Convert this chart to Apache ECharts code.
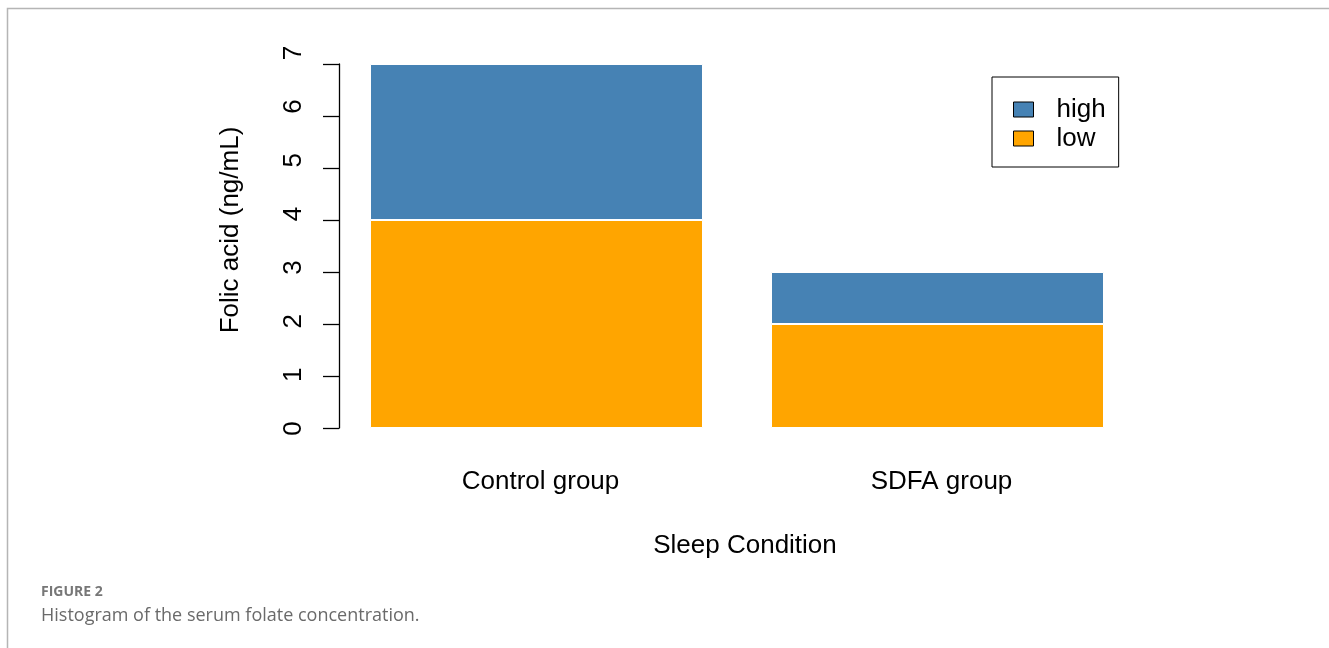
<!DOCTYPE html>
<html>
<head>
<meta charset="utf-8">
<script src="https://cdn.jsdelivr.net/npm/echarts@6/dist/echarts.min.js"></script>
<style>
  html, body { margin: 0; padding: 0; background: #fff; }
  #chart { width: 1329px; height: 648px; }
</style>
</head>
<body>
<div id="chart"></div>
<script>
// data
var groups = ['Control group', 'SDFA group'];
var lowValues = [4, 2];
var highValues = [3, 1];
var yTicks = [0, 1, 2, 3, 4, 5, 6, 7];

var font = 'Liberation Sans, Arial, sans-serif';

var option = {
    animation: false,
    backgroundColor: '#fff',
    title: {
        text: 'FIGURE 2',
        subtext: 'Histogram of the serum folate concentration.',
        left: 41,
        top: 585,
        itemGap: 8,
        padding: 0,
        textStyle: {
            fontFamily: 'Open Sans, sans-serif',
            fontSize: 14,
            fontWeight: 'bold',
            color: '#777'
        },
        subtextStyle: {
            fontFamily: 'Open Sans, sans-serif',
            fontSize: 18,
            color: '#6a6a6a'
        }
    },
    legend: {
        data: ['high', 'low'],
        orient: 'vertical',
        left: 992,
        top: 77,
        padding: [18, 13, 14, 21],
        itemGap: 0,
        itemWidth: 20,
        itemHeight: 15,
        icon: 'rect',
        borderColor: '#000',
        borderWidth: 1,
        backgroundColor: '#fff',
        itemStyle: { borderColor: '#000', borderWidth: 1 },
        textStyle: {
            fontFamily: font,
            fontSize: 26,
            color: '#000',
            lineHeight: 29,
            padding: [0, 0, 0, 18]
        }
    },
    grid: [
        { left: 336, right: 191, top: 64, bottom: 220, outerBoundsMode: 'none' },
        // the tick labels in the figure sit on a slightly wider spacing
        { left: 336, right: 191, top: 53, bottom: 219.5, outerBoundsMode: 'none' }
    ],
    xAxis: [
        {
            type: 'category',
            gridIndex: 0,
            data: groups,
            axisLine: { show: false },
            axisTick: { show: false },
            axisLabel: {
                margin: 41,
                fontFamily: font,
                fontSize: 26,
                color: '#000',
                padding: [0, 0, 0, 8]
            },
            name: 'Sleep Condition',
            nameLocation: 'middle',
            nameGap: 105,
            nameTextStyle: {
                fontFamily: font,
                fontSize: 26,
                color: '#000',
                padding: [0, 0, 0, 16]
            }
        },
        {
            type: 'category',
            gridIndex: 1,
            data: groups,
            show: false
        }
    ],
    yAxis: [
        {
            type: 'value',
            gridIndex: 0,
            min: 0,
            max: 7,
            interval: 1,
            offset: -3,
            splitLine: { show: false },
            axisLine: { show: true, lineStyle: { color: '#000', width: 1.3 } },
            axisTick: { show: true, length: 16, lineStyle: { color: '#000', width: 1.3 } },
            axisLabel: { show: false },
            name: 'Folic acid (ng/mL)',
            nameLocation: 'middle',
            nameGap: 95,
            nameTextStyle: {
                fontFamily: font,
                fontSize: 26,
                color: '#000',
                padding: [0, 0, 0, 32]
            }
        },
        {
            type: 'value',
            gridIndex: 1,
            min: 0,
            max: 7,
            interval: 1,
            offset: -3,
            splitLine: { show: false },
            axisLine: { show: false },
            axisTick: { show: false },
            axisLabel: {
                rotate: 90,
                margin: 32,
                fontFamily: font,
                fontSize: 26,
                color: '#000',
                formatter: function (v) { return yTicks.indexOf(v) >= 0 ? String(v) : ''; }
            }
        }
    ],
    series: [
        {
            name: 'low',
            type: 'bar',
            stack: 'total',
            barWidth: 333,
            data: lowValues,
            itemStyle: { color: '#FFA500', borderColor: '#fff', borderWidth: 1 }
        },
        {
            name: 'high',
            type: 'bar',
            stack: 'total',
            barWidth: 333,
            data: highValues,
            itemStyle: { color: '#4682B4', borderColor: '#fff', borderWidth: 1 }
        }
    ],
    graphic: [
        {
            type: 'polyline',
            shape: { points: [[7.5, 648], [7.5, 8.5], [1329, 8.5]] },
            style: { stroke: '#b5b5b5', lineWidth: 1.5, fill: null }
        }
    ]
};

var chart = echarts.init(document.getElementById('chart'));
chart.setOption(option);
</script>
</body>
</html>
